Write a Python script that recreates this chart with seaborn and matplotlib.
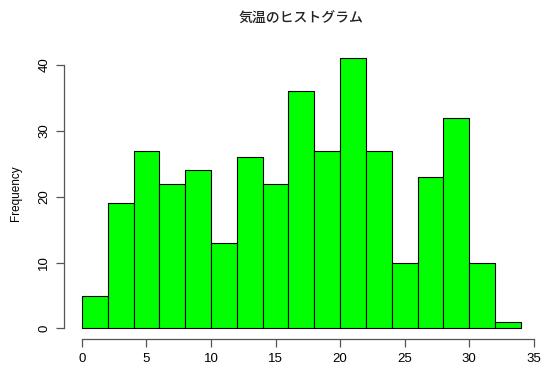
import numpy as np
import pandas as pd
import matplotlib
matplotlib.use("Agg")
import matplotlib.pyplot as plt
import seaborn as sns

# Histogram of temperatures, 2-degree bins
bin_edges = [0, 2, 4, 6, 8, 10, 12, 14, 16, 18, 20, 22, 24, 26, 28, 30, 32, 34]
counts = [5, 19, 27, 22, 24, 13, 26, 22, 36, 27, 41, 27, 10, 23, 32, 10, 1]
x_ticks = [0, 5, 10, 15, 20, 25, 30, 35]
y_ticks = [0, 10, 20, 30, 40]
title = "気温のヒストグラム"
ylabel = "Frequency"

mids = [(a + b) / 2 for a, b in zip(bin_edges[:-1], bin_edges[1:])]
df = pd.DataFrame({"temp": mids, "n": counts})

sns.set_style("white")
plt.rcParams["font.family"] = ["Liberation Sans", "Noto Sans CJK JP", "DejaVu Sans"]

fig = plt.figure(figsize=(5.41, 3.68), dpi=100)
left, right, bottom, top = 0.1189, 0.9952, 0.078, 0.8707
ax = fig.add_axes([left, bottom, right - left, top - bottom])

sns.histplot(data=df, x="temp", weights="n", bins=bin_edges, ax=ax,
             color="#00FF00", edgecolor="black", linewidth=0.8, alpha=1.0)

# R-style padded ranges with axes spanning only tick extents
xr = (bin_edges[0], bin_edges[-1])
yr = (0, max(counts))
px = 0.04 * (xr[1] - xr[0])
py = 0.04 * (yr[1] - yr[0])
ax.set_xlim(xr[0] - px, xr[1] + px)
ax.set_ylim(yr[0] - py, yr[1] + py)

ax.set_xticks(x_ticks)
ax.set_yticks(y_ticks)
ax.set_xticklabels([str(v) for v in x_ticks])
ax.set_yticklabels([str(v) for v in y_ticks], rotation=90, va="center")

for side in ["top", "right"]:
    ax.spines[side].set_visible(False)
ax.spines["left"].set_bounds(y_ticks[0], y_ticks[-1])
ax.spines["bottom"].set_bounds(x_ticks[0], x_ticks[-1])
for side in ["left", "bottom"]:
    ax.spines[side].set_color("#555555")
    ax.spines[side].set_linewidth(0.9)

ax.tick_params(axis="both", which="major", direction="out", length=6,
               width=0.9, color="#555555", labelsize=9.5, labelcolor="black",
               left=True, bottom=True)
ax.tick_params(axis="x", pad=4)
ax.tick_params(axis="y", pad=4)

ax.set_xlabel("")
ax.set_ylabel(ylabel, fontsize=8.5, color="black")
ax.yaxis.set_label_coords(-0.09, 0.5)
fig.text(0.5 * (left + right), 0.948, title, ha="center", va="center",
         fontsize=10, fontweight="medium", color="#222222",
         family=["Noto Sans CJK JP", "DejaVu Sans"])

fig.savefig("out.png", dpi=100)
